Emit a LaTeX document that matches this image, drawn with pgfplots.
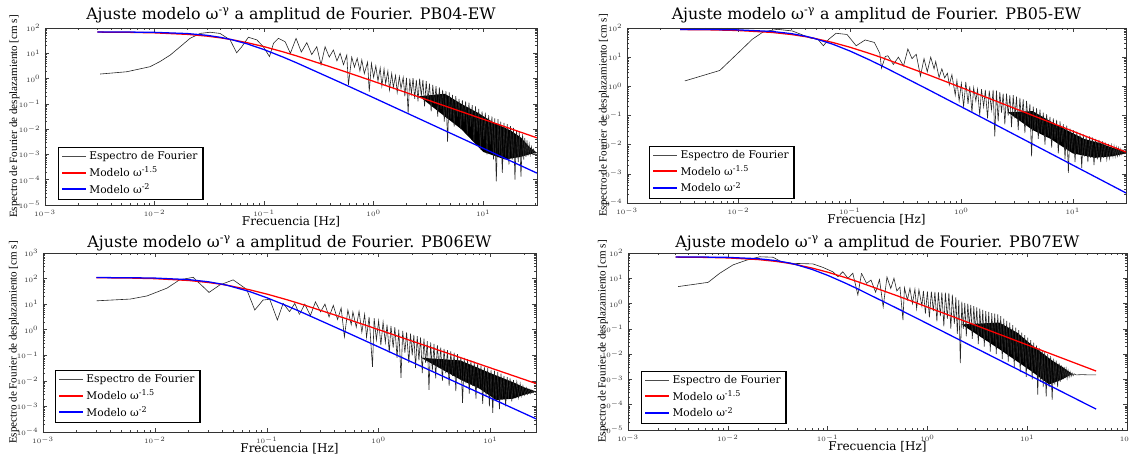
\documentclass[border=0pt]{standalone}
\usepackage{fontspec}
\setmainfont{DejaVu Serif}
\newfontfamily\ylabfont{Liberation Serif}
\usepackage{pgfplots}
\usepackage{pgfplotstable}
\pgfplotsset{compat=1.18}

\pgfplotstableread{
f a b c d
0.1556 28.8 nan nan nan
0.1738 10 nan nan nan
0.1959 38.9 nan 3.98 nan
0.2188 11.2 11.2 10 15.8
0.2455 26.3 5.62 3.55 6.31
0.2723 8.91 10 12.3 8.51
0.3027 18.2 5.01 5.01 2.82
0.3311 3.55 19.1 10 8.91
0.3606 18.2 8.91 3.16 0.741
0.3936 7.08 12.6 8.91 11.2
0.4295 13.5 2.24 2.51 3.98
0.4624 5.01 8.91 7.08 10
0.4943 10 3.16 0.525 3.16
0.5309 3.55 10 5.89 4.47
0.5689 8.51 3.98 1.58 0.224
0.5888 0.562 7.08 5.01 4.17
0.631 7.08 2.0 1.26 1.41
0.6683 2.82 3.98 5.25 3.98
0.7079 6.31 1.95 0.794 1.0
0.7499 2.0 2.82 3.98 3.72
0.7798 5.5 1.12 0.501 0.631
0.8222 1.58 2.51 3.16 3.55
0.8810 4.47 0.501 0.0355 0.794
0.912 0.302 1.58 2.82 3.16
0.955 3.98 0.316 0.398 0.398
1.0 1.12 1.26 2.24 3.02
1.047 3.16 0.2 0.251 0.282
1.096 0.794 1.41 2.0 2.95
1.148 2.63 0.251 0.316 0.501
1.189 0.501 1.0 1.58 2.88
1.245 2.4 0.126 0.126 0.2
1.288 0.631 0.891 1.41 2.82
1.349 2.0 0.316 0.2 0.316
1.396 0.355 0.794 1.26 2.75
1.462 1.58 0.1 0.0794 0.126
1.514 0.447 0.794 1.0 2.69
1.585 1.32 0.2 0.0132 0.251
1.641 0.282 0.759 0.891 2.63
1.718 1.2 0.0794 0.126 0.1
1.778 0.398 0.708 0.794 2.24
1.862 1.12 0.158 0.0501 0.158
1.928 0.2 0.759 0.708 1.78
1.995 1.07 0.0191 0.1 0.0631
2.065 0.0427 0.708 0.631 1.41
2.138 1.0 0.0631 0.0316 0.00437
2.213 0.251 0.631 0.562 1.2
2.291 1.05 0.126 0.0631 0.1
2.371 0.158 0.562 0.501 1.07
2.455 0.891 0.0501 0.02 0.0501
2.541 0.126 0.562 0.447 1.0
2.630 1.0 0.1 0.0501 0.126
2.723 0.2 0.501 0.355 0.891
2.818 0.891 0.0398 0.00447 0.0398
2.917 0.0794 0.501 0.316 0.794
3.020 0.794 0.0794 0.0251 0.0794
3.126 0.126 0.447 0.282 0.708
3.236 0.631 0.0316 0.0126 0.0251
3.350 0.0501 0.398 0.251 0.631
3.467 0.562 0.0631 0.0316 0.0501
3.589 0.1 0.355 0.2 0.562
3.715 0.501 0.0251 0.01 0.02
3.846 0.0316 0.316 0.178 0.501
3.981 0.447 0.0501 0.02 0.0398
4.121 0.0631 0.251 0.158 0.468
4.266 0.355 0.00398 0.00631 0.0126
4.416 0.02 0.2 0.141 0.417
4.571 0.316 0.0316 0.0158 0.0316
4.732 0.00316 0.178 0.126 0.398
4.898 0.282 0.0158 0.00398 0.01
5.070 0.0251 0.158 0.112 0.372
5.248 0.224 0.0251 0.0126 0.02
5.433 0.0126 0.126 0.0871 0.316
5.623 0.2 0.01 0.00138 0.00631
5.821 0.0316 0.112 0.0794 0.251
6.026 0.158 0.02 0.00794 0.0126
6.237 0.01 0.0891 0.0708 0.209
6.457 0.141 0.00794 0.00316 0.00501
6.683 0.02 0.0794 0.0631 0.178
6.918 0.126 0.0158 0.00631 0.01
7.161 0.00631 0.0708 0.0562 0.141
7.413 0.112 0.00501 0.002 0.00316
7.674 0.0126 0.0631 0.0501 0.112
7.943 0.0891 0.0126 0.00501 0.00794
8.222 0.00316 0.0501 0.0398 0.0891
8.511 0.0794 0.00316 0.00126 0.002
8.810 0.00794 0.0447 0.0355 0.0708
9.120 0.0631 0.00107 0.00251 0.00501
9.441 0.00158 0.0355 0.0316 0.0562
9.772 0.0501 0.00631 0.001 0.00126
10.12 0.00398 0.0316 0.0269 0.0447
10.47 0.0447 0.00251 0.000562 0.00316
10.84 0.001 0.0282 0.0251 0.0355
11.22 0.0355 0.00501 0.00158 0.001
11.61 0.00251 0.0251 0.0224 0.0282
12.02 0.0316 0.00158 0.000794 0.002
12.42 0.000631 0.0224 0.0191 0.0224
12.74 0.0269 0.00398 0.002 0.000251
13.18 0.0000851 0.02 0.0158 0.0178
13.65 0.0251 0.00251 0.001 0.000794
14.13 0.001 0.0191 0.0141 0.0141
14.45 0.02 0.00355 0.002 0.000501
14.96 0.000186 0.0178 0.0126 0.012
15.49 0.0178 0.002 0.00158 0.000209
16.03 0.000794 0.0158 0.0107 0.01
16.60 0.0158 0.00316 0.00251 0.000501
17.18 0.000398 0.0145 0.00891 0.00832
17.78 0.0132 0.00251 0.00224 0.000155
18.41 0.000631 0.0132 0.00759 0.00661
18.92 0.0112 0.00355 0.00263 0.000631
19.50 0.0001 0.012 0.00631 0.00562
20.18 0.00891 0.00316 0.00282 0.000501
20.89 0.000501 0.0107 0.00525 0.00447
21.38 0.00794 0.00355 0.00302 0.000794
22.13 0.000132 0.00955 0.00468 0.00355
22.91 0.00631 0.00398 0.00316 0.001
23.44 0.000631 0.00871 0.00427 0.00316
23.99 0.00447 0.00398 0.00339 0.00112
24.55 0.000794 0.00794 0.00398 0.00263
25.12 0.00355 0.00417 0.00355 0.00112
25.70 0.000891 0.00759 0.00372 0.00224
26.30 0.00251 0.00437 nan 0.00126
26.92 0.001 0.00708 nan 0.002
27.54 0.002 0.00468 nan 0.00132
28.18 0.00105 0.00661 nan 0.00178
28.84 0.00158 0.00501 nan 0.00141
29.51 0.00112 0.00631 nan 0.00166
30.90 0.00117 0.00562 nan 0.00151
35.48 nan nan nan 0.00155
41.69 nan nan nan 0.00151
48.98 nan nan nan 0.00151
}\dense

\pgfplotsset{
  every axis/.append style={
    scale only axis, xmin=1e-3,
    tick align=inside, xtick pos=both, ytick pos=both,
    major tick length=3pt, minor tick length=1.6pt,
    axis line style={black!80, line width=0.5pt},
    tick label style={font=\fontsize{4.2}{5}\selectfont, black!80},
    title style={font=\fontsize{11.9}{13}\selectfont, at={(axis description cs:0.5,1)}, anchor=south, yshift=-2.6pt, inner sep=0pt},
    xlabel style={font=\fontsize{9}{10}\selectfont, at={(axis description cs:0.5,0)}, anchor=north, yshift=-8.6pt, inner sep=0pt},
    ylabel style={font=\fontsize{8.3}{9}\selectfont, anchor=center},
    legend style={draw=black, line width=1.1pt, fill=white, font=\fontsize{8}{9.5}\selectfont, inner xsep=2pt, inner ysep=1.2pt, row sep=-0.3pt, anchor=south west},
    legend cell align=left,
    legend image code/.code={\draw[#1] (0cm,0cm) -- (0.62cm,0cm);},
  },
  every tick/.style={black!75, line width=0.35pt},
}
\tikzset{
  spec/.style={black!85, line width=0.45pt, mark=none},
  mred/.style={red, line width=0.95pt, mark=none},
  mblue/.style={blue, line width=0.95pt, mark=none},
}
\newcommand{\speclegend}{%
  \addlegendimage{draw=black!70, line width=0.7pt}\addlegendentry{Espectro de Fourier}%
  \addlegendimage{draw=red, line width=1.5pt}\addlegendentry{Modelo ω\textsuperscript{-1.5}}%
  \addlegendimage{draw=blue, line width=1.5pt}\addlegendentry{Modelo ω\textsuperscript{-2}}%
}

\begin{document}
\begin{tikzpicture}
\useasboundingbox (0pt,0pt) rectangle (846.75pt,-345pt);

% ---------------- PB04-EW ----------------
\begin{loglogaxis}[at={(33.75pt,-21pt)}, anchor=north west, width=369pt, height=132.75pt,
  xmax=31, ymin=1e-5, ymax=1e2,
  xtickten={-3,-2,-1,0,1,2}, ytickten={-5,-4,-3,-2,-1,0,1,2},
  title={Ajuste modelo ω\textsuperscript{-γ} a amplitud de Fourier. PB04-EW},
  xlabel={Frecuencia [Hz]},
  ylabel={\ylabfont Espectro de Fourier de desplazamiento [cm s]},
  ylabel style={at={(axis description cs:-0.062,0.5)}},
  legend style={at={(0.026,0.028)}}]
\addplot[fill=black, draw=none, forget plot] coordinates {(2.6,0.2)(4.467,0.251)(6.310,0.1)(8.913,0.0447)(12.59,0.0178)(17.78,0.00891)(22.39,0.00447)(26.30,0.002)(30.90,0.00117)(26.30,0.001)(21.88,0.000794)(15.85,0.000631)(10.0,0.00126)(6.310,0.01)(4.467,0.0316)(2.6,0.2)};
\addplot[spec, forget plot] coordinates {(0.00318,1.51)(0.00557,1.86)(0.0091,2.95)(0.0112,4.7)(0.0139,8.5)(0.0171,18)(0.0211,39)(0.0261,61)(0.0321,68)(0.0396,61)(0.0489,34)(0.0562,10.5)(0.0625,18)(0.0719,43)(0.0858,34)(0.0986,18)(0.112,7.4)(0.122,25)(0.135,39)(0.1556,28.8)};
\addplot[spec, forget plot] table[x=f, y=a] {\dense};
\addplot[mred, forget plot] coordinates {(0.003,68.99)(0.006,67.2)(0.01,64.3)(0.02,55.9)(0.03,47.8)(0.04,40.8)(0.05,35)(0.07,26.3)(0.1,18.3)(0.15,11.3)(0.2,7.78)(0.5,2.15)(1,0.775)(2,0.276)(5,0.0699)(10,0.02475)(20,0.00875)(31,0.004534)};
\addplot[mblue, forget plot] coordinates {(0.003,69.75)(0.006,69.0)(0.01,67.3)(0.02,60.3)(0.03,51.5)(0.04,42.7)(0.05,35)(0.07,23.6)(0.1,14)(0.15,7.0)(0.2,4.12)(0.5,0.693)(1,0.1746)(2,0.04372)(5,0.0069993)(10,0.00175)(20,0.0004375)(31,0.0001821)};
\speclegend
\end{loglogaxis}

% ---------------- PB05-EW ----------------
\begin{loglogaxis}[at={(470.25pt,-21pt)}, anchor=north west, width=374.25pt, height=131.25pt,
  xmax=30, ymin=1e-4, ymax=1e2,
  xtickten={-3,-2,-1,0,1,2}, ytickten={-4,-3,-2,-1,0,1,2},
  title={Ajuste modelo ω\textsuperscript{-γ} a amplitud de Fourier. PB05-EW},
  xlabel={Frecuencia [Hz]},
  ylabel={\ylabfont Espectro de Fourier de desplazamiento [cm s]},
  ylabel style={at={(axis description cs:-0.046,0.5)}},
  legend style={at={(0.044,0.023)}}]
\addplot[fill=black, draw=none, forget plot] coordinates {(2.6,0.13)(4.365,0.141)(6.310,0.0631)(9.333,0.0282)(12.59,0.0158)(17.78,0.0112)(22.39,0.00794)(28.18,0.00631)(30.90,0.00562)(28.18,0.00479)(22.39,0.00398)(15.85,0.00355)(10.0,0.00501)(6.310,0.0158)(4.365,0.0316)(2.6,0.13)};
\addplot[spec, forget plot] coordinates {(0.0033,1.53)(0.0068,3.5)(0.0106,17.7)(0.0133,41)(0.0167,74)(0.0225,90)(0.0305,79)(0.0444,45)(0.0516,41)(0.0578,24.6)(0.0646,41)(0.0751,66)(0.0942,60)(0.1138,24.6)(0.1371,38.9)(0.1656,32)(0.1854,13.5)(0.1923,4.2)(0.2075,10.5)(0.2188,11.2)};
\addplot[spec, forget plot] table[x=f, y=b] {\dense};
\addplot[mred, forget plot] coordinates {(0.003,88.57)(0.006,86.08)(0.01,81.95)(0.02,70.44)(0.03,59.6)(0.04,50.4)(0.047,45)(0.07,31.95)(0.1,21.93)(0.15,13.43)(0.2,9.205)(0.5,2.521)(1,0.907)(2,0.323)(5,0.08197)(10,0.02899)(20,0.010253)(30,0.00558)};
\addplot[mblue, forget plot] coordinates {(0.003,89.64)(0.006,88.56)(0.01,86.1)(0.02,76.2)(0.03,63.95)(0.04,52.2)(0.047,45)(0.07,27.98)(0.1,16.28)(0.15,8.05)(0.2,4.71)(0.5,0.788)(1,0.1983)(2,0.04969)(5,0.007949)(10,0.0019874)(20,0.0004971)(30,0.0002209)};
\speclegend
\end{loglogaxis}

% ---------------- PB06EW ----------------
\begin{loglogaxis}[at={(32.25pt,-189.75pt)}, anchor=north west, width=369.75pt, height=134.25pt,
  xmax=25.5, ymin=1e-4, ymax=1e3,
  xtickten={-3,-2,-1,0,1,2}, ytickten={-4,-3,-2,-1,0,1,2,3},
  title={Ajuste modelo ω\textsuperscript{-γ} a amplitud de Fourier. PB06EW},
  title style={yshift=-2.25pt},
  xlabel={Frecuencia [Hz]},
  ylabel={\ylabfont Espectro de Fourier de desplazamiento [cm s]},
  ylabel style={at={(axis description cs:-0.059,0.5)}},
  legend style={at={(0.024,0.05)}}]
\addplot[fill=black, draw=none, forget plot] coordinates {(2.4,0.08)(5.370,0.0631)(10.0,0.02)(15.85,0.00891)(19.95,0.00562)(25.70,0.0038)(19.95,0.00282)(15.85,0.002)(11.22,0.00178)(7.943,0.00501)(5.370,0.0112)(2.4,0.08)};
\addplot[spec, forget plot] coordinates {(0.00302,13.5)(0.00603,15.8)(0.0085,20.9)(0.0129,42.7)(0.0166,89)(0.0220,112)(0.0305,28.8)(0.038,56)(0.0501,89)(0.0661,38)(0.0782,5.9)(0.0927,14.5)(0.1064,15.5)(0.1245,2.4)(0.140,10.7)(0.160,5.1)(0.178,10.7)(0.1959,3.98)};
\addplot[spec, forget plot] table[x=f, y=c] {\dense};
\addplot[mred, forget plot] coordinates {(0.003,108.08)(0.006,104.73)(0.01,99.24)(0.02,84.19)(0.03,70.38)(0.04,58.9)(0.044,55)(0.07,36.58)(0.1,24.85)(0.15,15.08)(0.2,10.29)(0.5,2.799)(1,1.0055)(2,0.3577)(5,0.09076)(10,0.032089)(20,0.011351)(25.5,0.0078844)};
\addplot[mblue, forget plot] coordinates {(0.003,109.49)(0.006,107.99)(0.01,104.6)(0.02,91.17)(0.03,75.09)(0.04,60.2)(0.044,55)(0.07,31.15)(0.1,17.84)(0.15,8.72)(0.2,5.078)(0.5,0.8455)(1,0.2126)(2,0.05322)(5,0.008518)(10,0.0021296)(20,0.0005325)(25.5,0.0003276)};
\speclegend
\end{loglogaxis}

% ---------------- PB07EW ----------------
\begin{loglogaxis}[at={(471pt,-189.75pt)}, anchor=north west, width=374.25pt, height=132.75pt,
  xmax=100, ymin=1e-5, ymax=1e2,
  xtickten={-3,-2,-1,0,1,2}, ytickten={-5,-4,-3,-2,-1,0,1,2},
  title={Ajuste modelo ω\textsuperscript{-γ} a amplitud de Fourier. PB07EW},
  title style={yshift=-2.25pt},
  xlabel={Frecuencia [Hz]},
  ylabel={\ylabfont Espectro de Fourier de desplazamiento [cm s]},
  ylabel style={at={(axis description cs:-0.050,0.5)}},
  legend style={at={(0.026,0.034)}}]
\addplot[fill=black, draw=none, forget plot] coordinates {(2.2,0.15)(5.248,0.178)(7.943,0.0708)(11.22,0.0224)(17.78,0.00562)(22.39,0.00316)(28.18,0.00166)(22.39,0.001)(16.60,0.000631)(11.22,0.002)(5.248,0.0158)(2.2,0.15)};
\addplot[spec, forget plot] coordinates {(0.00318,4.7)(0.00635,6.9)(0.0083,15.8)(0.0113,34)(0.0154,52)(0.0209,71)(0.0284,68)(0.0344,45)(0.045,39)(0.0713,37)(0.0897,27)(0.113,18)(0.127,11.5)(0.142,18)(0.160,10)(0.179,15.8)(0.201,2.2)(0.2188,15.8)};
\addplot[spec, forget plot] table[x=f, y=d] {\dense};
\addplot[mred, forget plot] coordinates {(0.003,68.92)(0.006,67.04)(0.01,63.92)(0.02,55.16)(0.03,46.85)(0.04,39.75)(0.048,35)(0.07,25.35)(0.1,17.47)(0.15,10.73)(0.2,7.364)(0.5,2.022)(1,0.7286)(2,0.2593)(5,0.06579)(10,0.023272)(20,0.0082295)(49,0.0021462)};
\addplot[mblue, forget plot] coordinates {(0.003,69.73)(0.006,68.92)(0.01,67.09)(0.02,59.64)(0.03,50.34)(0.04,41.3)(0.048,35)(0.07,22.39)(0.1,13.11)(0.15,6.5)(0.2,3.813)(0.5,0.6393)(1,0.1609)(2,0.0403)(5,0.00645)(10,0.0016128)(20,0.0004032)(49,0.00006718)};
\speclegend
\end{loglogaxis}
\end{tikzpicture}
\end{document}
